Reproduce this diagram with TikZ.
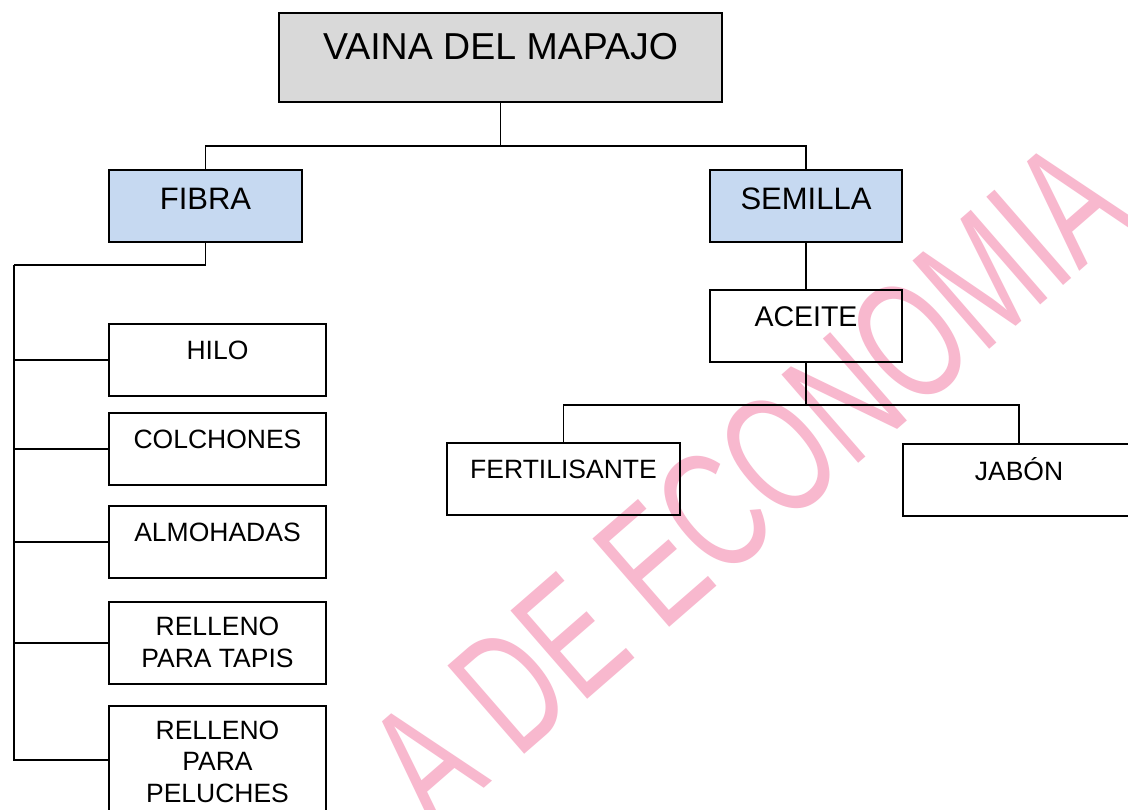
\documentclass[tikz,border=0pt]{standalone}
\usepackage{graphicx}
\usepackage{fontspec}
\setmainfont{Liberation Sans}
\definecolor{topgray}{RGB}{217,217,217}
\definecolor{lblue}{RGB}{198,217,241}
\definecolor{wmpink}{RGB}{248,184,206}
\tikzset{
  bx/.style={draw=black, line width=2pt, fill=white, inner sep=0pt},
  tx/.style={inner sep=0pt, align=center, text=black},
  ln/.style={draw=black, line width=1.5pt},
  wm/.style={inner sep=0pt, text=wmpink, font=\fontsize{170}{170}\selectfont}
}
\begin{document}
\begin{tikzpicture}[x=1pt,y=-1pt]
\useasboundingbox (0,0) rectangle (1128,810);
\clip (0,0) rectangle (1128,810);
\fill[white] (0,0) rectangle (1128,810);
% boxes
\node[bx, fill=topgray, minimum width=443pt, minimum height=89pt] (top) at (500.5,57.5) {};
\node[bx, fill=lblue, minimum width=193pt, minimum height=72pt] (fibra) at (205.5,206) {};
\node[bx, fill=lblue, minimum width=192pt, minimum height=72pt] (semilla) at (806,206) {};
\node[bx, minimum width=192pt, minimum height=72pt] (aceite) at (806,326) {};
\node[bx, minimum width=217pt, minimum height=72pt] (hilo) at (217.5,360) {};
\node[bx, minimum width=217pt, minimum height=72pt] (colch) at (217.5,449) {};
\node[bx, minimum width=217pt, minimum height=72pt] (almo) at (217.5,542) {};
\node[bx, minimum width=217pt, minimum height=82pt] (tapis) at (217.5,643) {};
\node[bx, minimum width=217pt, minimum height=144pt] (pel) at (217.5,778) {};
\node[bx, minimum width=233pt, minimum height=72pt] (fert) at (563.5,479) {};
\node[bx, minimum width=232pt, minimum height=72pt] (jabon) at (1019,480) {};
% texts
\node[tx, anchor=base, font=\fontsize{37.5}{45}\selectfont] (topT) at (500.5,60) {VAINA DEL MAPAJO};
\node[tx, anchor=base, font=\fontsize{31}{37}\selectfont] (fibraT) at (205.5,210) {FIBRA};
\node[tx, anchor=base, font=\fontsize{31}{37}\selectfont] (semillaT) at (806,210) {SEMILLA};
\node[tx, anchor=base, font=\fontsize{28.5}{34}\selectfont] (aceiteT) at (806,327) {ACEITE};
\node[tx, anchor=base, font=\fontsize{26.5}{32}\selectfont] (hiloT) at (217.5,360) {HILO};
\node[tx, anchor=base, font=\fontsize{26.5}{32}\selectfont] (colchT) at (217.5,448) {COLCHONES};
\node[tx, anchor=base, font=\fontsize{26.5}{32}\selectfont] (almoT) at (217.5,541) {ALMOHADAS};
\node[tx, anchor=base, font=\fontsize{26.5}{32}\selectfont] (tapisT) at (217.5,667) {RELLENO\\PARA TAPIS};
\node[tx, anchor=base, font=\fontsize{26.5}{31.5}\selectfont] (pelT) at (217.5,802) {RELLENO\\PARA\\PELUCHES};
\node[tx, anchor=base, font=\fontsize{26.5}{32}\selectfont] (fertT) at (563.5,478) {FERTILISANTE};
\node[tx, anchor=base, font=\fontsize{26.5}{32}\selectfont] (jabonT) at (1019,480) {JABÓN};
% connectors
\coordinate (fk) at (14,265);
\draw[ln] (top.south) -- ++(0,43) -| (fibra.north);
\draw[ln] (top.south) -- ++(0,43) -| (semilla.north);
\draw[ln] (fibra.south) |- (fk);
\draw[ln] (fk) |- (hilo.west);
\draw[ln] (fk) |- (colch.west);
\draw[ln] (fk) |- (almo.west);
\draw[ln] (fk) |- (tapis.west);
\draw[ln] (fk) |- ([yshift=-55pt]pel.north west);
\draw[ln] (semilla.south) -- (aceite.north);
\draw[ln] (aceite.south) -- ++(0,42) -| (fert.north);
\draw[ln] (aceite.south) -- ++(0,42) -| (jabon.north);
% watermark
\begin{scope}[blend mode=multiply]
\node[wm, rotate=41] (wmark) at (748,482) {\scalebox{0.68}[1]{A DE ECONOMIA}};
\end{scope}
\end{tikzpicture}
\end{document}
